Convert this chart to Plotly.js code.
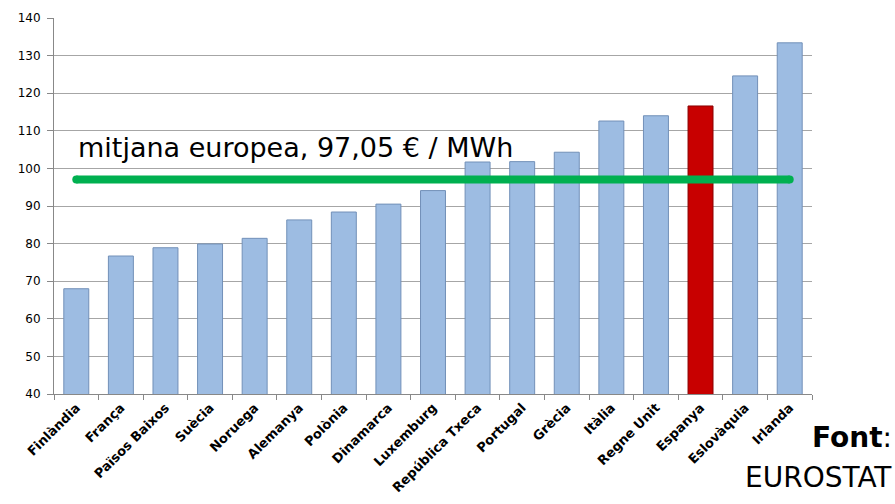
<!DOCTYPE html>
<html>
<head>
<meta charset="utf-8">
<script src="https://cdn.plot.ly/plotly-3.0.1.min.js"></script>
<style>html,body{margin:0;padding:0;background:#fff;}#chart{width:895px;height:504px;}</style>
</head>
<body>
<div id="chart"></div>
<script>
const categories = ["Finlàndia","França","Països Baixos","Suècia","Noruega","Alemanya","Polònia","Dinamarca","Luxemburg","República Txeca","Portugal","Grècia","Itàlia","Regne Unit","Espanya","Eslovàquia","Irlanda"];
const prices = [68.0, 76.7, 78.9, 79.9, 81.4, 86.3, 88.4, 90.5, 94.1, 101.7, 101.8, 104.3, 112.6, 114.0, 116.6, 124.6, 133.4];
const highlighted = "Espanya";
const europeanMean = 97.05;
const meanLabel = "mitjana europea, 97,05 € / MWh";
const yTicks = [40, 50, 60, 70, 80, 90, 100, 110, 120, 130, 140];

const blue = "#9dbce2", blueEdge = "#7290b8";
const red = "#c80000", redEdge = "#8a0000";

const bars = {
  type: "bar",
  x: categories,
  y: prices,
  base: 0,
  marker: {
    color: categories.map(c => c === highlighted ? red : blue),
    line: {color: categories.map(c => c === highlighted ? redEdge : blueEdge), width: 1}
  },
  hoverinfo: "x+y"
};

const meanLine = {
  type: "scatter",
  mode: "lines+markers",
  x: [categories[0], categories[categories.length - 1]],
  y: [europeanMean, europeanMean],
  line: {color: "#00b050", width: 8},
  marker: {color: "#00b050", size: 8, symbol: "circle"},
  hoverinfo: "y"
};

const layout = {
  width: 895, height: 504,
  margin: {l: 54, r: 83, t: 18, b: 110, pad: 0},
  paper_bgcolor: "#ffffff",
  plot_bgcolor: "#ffffff",
  showlegend: false,
  bargap: 0.44,
  font: {family: "'DejaVu Sans', sans-serif", color: "#000"},
  xaxis: {
    type: "category",
    range: [-0.5, categories.length - 0.5],
    autorange: false,
    tickangle: -45,
    tickson: "boundaries",
    ticks: "outside",
    ticklen: 5,
    tickcolor: "#888888",
    showline: true,
    linecolor: "#888888",
    linewidth: 1,
    showgrid: false,
    automargin: false,
    tickfont: {family: "'DejaVu Sans', sans-serif", size: 13, color: "#000", weight: 700}
  },
  yaxis: {
    range: [40, 140],
    autorange: false,
    tickvals: yTicks,
    ticktext: yTicks.map(String),
    ticks: "outside",
    ticklen: 6,
    tickcolor: "#888888",
    ticklabelstandoff: 4,
    showline: true,
    linecolor: "#888888",
    linewidth: 1,
    showgrid: true,
    gridcolor: "#a6a6a6",
    gridwidth: 1,
    zeroline: false,
    automargin: false,
    tickfont: {family: "'DejaVu Sans', sans-serif", size: 12, color: "#000"}
  },
  annotations: [
    {
      xref: "x", yref: "y",
      x: categories[0], y: 105.5,
      xanchor: "left", yanchor: "middle",
      text: meanLabel,
      showarrow: false,
      font: {family: "'DejaVu Sans', sans-serif", size: 27, color: "#000"}
    },
    {
      xref: "paper", yref: "paper",
      x: 1.108, y: -0.117,
      xanchor: "right", yanchor: "middle",
      text: "<b>Font</b>:",
      showarrow: false,
      font: {family: "'DejaVu Sans', sans-serif", size: 28, color: "#000"}
    },
    {
      xref: "paper", yref: "paper",
      x: 1.108, y: -0.222,
      xanchor: "right", yanchor: "middle",
      text: "EUROSTAT",
      showarrow: false,
      font: {family: "'DejaVu Sans', sans-serif", size: 28, color: "#000"}
    }
  ]
};

Plotly.newPlot("chart", [bars, meanLine], layout, {displayModeBar: false, staticPlot: true});
</script>
</body>
</html>
